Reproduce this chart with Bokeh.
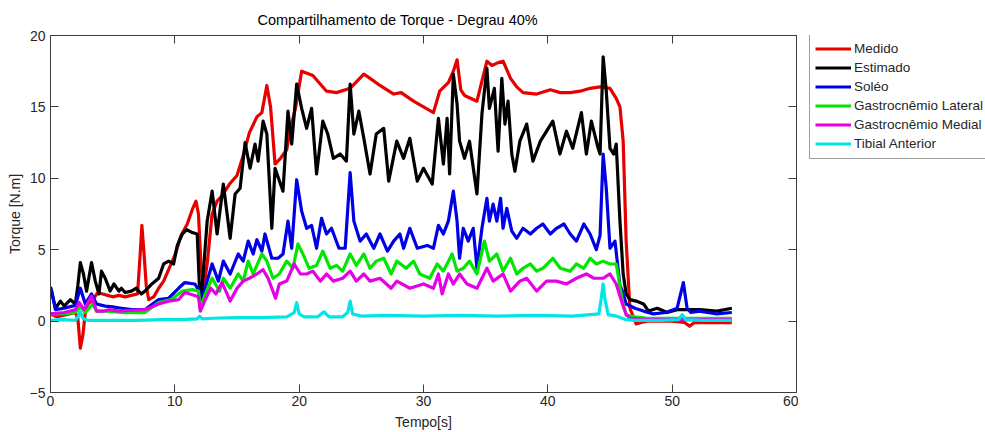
from bokeh.plotting import figure
from bokeh.models import Range1d, LinearAxis, Legend, LegendItem, FixedTicker
from bokeh.layouts import row
from bokeh.embed import file_html
from bokeh.resources import INLINE

title_text = "Compartilhamento de Torque - Degrau 40%"
x_label = "Tempo[s]"
y_label = "Torque [N.m]"
x_ticks = [0, 10, 20, 30, 40, 50, 60]
y_ticks = [-5, 0, 5, 10, 15, 20]

names = ["Medido", "Estimado", "Soléo", "Gastrocnêmio Lateral", "Gastrocnêmio Medial", "Tibial Anterior"]
colors = ["#e60000", "#000000", "#0000e6", "#00e600", "#e600e6", "#00e6e6"]

t_medido = [0, 0.5, 1.0, 1.5, 2.0, 2.2, 2.4, 2.6, 2.8, 3.0, 3.4, 3.8, 4.2, 4.6, 5.0, 5.5, 6.0, 6.5, 7.0, 7.2,
            7.35, 7.5, 7.7, 7.9, 8.3, 8.7, 9.1, 9.5, 10.0, 10.5, 11.0, 11.4, 11.7, 11.9, 12.1, 12.3, 12.6, 13.0,
            13.4, 13.8, 14.4, 15.0, 15.5, 16.0, 16.6, 17.0, 17.4, 17.7, 18.06, 18.5, 19.0, 19.3, 19.7, 20.2,
            21.1, 22.2, 23.0, 24.1, 25.2, 25.7, 26.5, 27.6, 28.2, 29.2, 30.0, 30.8, 31.3, 32.0, 32.4, 32.7,
            33.0, 33.3, 34.3, 35.1, 35.5, 36.0, 36.4, 37.0, 37.5, 38.0, 39.1, 40.2, 41.0, 41.8, 42.6, 43.4,
            44.2, 45.0, 45.5, 45.8, 46.06, 46.3, 46.6, 47.1, 47.5, 48.0, 49.0, 50.0, 51.0, 51.4, 51.8, 52.5,
            53.5, 54.8]
y_medido = [0.5, 0.3, 0.4, 0.5, 0.6, 0.2, -1.9, -1.0, 0.6, 1.2, 1.5, 2.0, 1.9, 1.8, 1.7, 1.8, 1.7, 1.8, 1.9, 4.5,
            6.7, 5.0, 2.5, 1.5, 1.7, 2.3, 2.8, 3.6, 4.6, 6.0, 6.8, 7.8, 8.4, 7.5, 4.0, 2.2, 4.0, 7.5,
            8.4, 8.8, 9.6, 10.2, 11.6, 13.2, 14.3, 14.6, 16.5, 15.0, 11.0, 11.4, 12.0, 13.5, 14.9, 17.5,
            17.2, 16.1, 16.0, 16.3, 17.3, 17.0, 16.5, 15.9, 16.0, 15.4, 15.0, 14.6, 16.1, 16.7, 17.5, 18.3,
            16.2, 15.8, 15.4, 18.2, 17.9, 18.1, 18.2, 17.0, 16.4, 16.0, 15.9, 16.2, 16.0, 16.0, 16.1, 16.3,
            16.4, 16.3, 15.6, 15.0, 12.6, 5.6, 0.9, -0.2, -0.1, 0.0, 0.0, 0.0, -0.1, -0.35, -0.1, -0.1,
            -0.1, -0.1]

t_estimado = [0, 0.1, 0.4, 0.8, 1.1, 1.6, 2.0, 2.2, 2.4, 2.65, 2.9, 3.3, 3.6, 3.9, 4.1, 4.4, 4.8, 5.1, 5.5, 5.7,
              6.0, 6.5, 6.9, 7.3, 7.6, 8.15, 8.7, 9.1, 9.5, 9.9, 10.2, 10.6, 10.96, 11.4, 11.8, 11.95, 12.05,
              12.3, 12.6, 13.0, 13.4, 13.9, 14.45, 14.85, 15.25, 15.65, 16.05, 16.45, 16.7, 17.1, 17.4, 17.8,
              18.06, 18.7, 19.1, 19.4, 19.8, 20.2, 20.6, 21.0, 21.4, 21.9, 22.3, 22.75, 23.3, 23.8, 24.1, 24.4,
              24.8, 25.2, 25.7, 26.2, 26.8, 27.2, 27.85, 28.4, 28.9, 29.5, 30.0, 30.7, 31.2, 31.6, 31.9, 32.1,
              32.4, 32.7, 32.9, 33.3, 33.7, 34.3, 34.7, 35.1, 35.3, 35.7, 36.0, 36.3, 36.55, 36.8, 37.1, 37.35,
              37.75, 38.3, 38.8, 39.4, 39.9, 40.4, 40.97, 41.5, 42.0, 42.7, 43.1, 43.5, 44.05, 44.2, 44.45, 44.7,
              45.0, 45.3, 45.5, 45.8, 46.06, 46.3, 46.6, 47.1, 47.7, 48.1, 48.8, 49.6, 50.4, 51.0, 52.2, 53.6,
              54.8]
y_estimado = [2.4, 2.0, 0.9, 1.4, 1.05, 1.5, 1.2, 2.5, 4.1, 3.3, 2.1, 4.1, 2.8, 1.9, 3.5, 3.0, 2.1, 2.6, 2.1, 2.3,
              2.0, 2.1, 2.3, 1.9, 2.1, 2.6, 3.0, 4.0, 4.2, 4.0, 5.3, 6.1, 6.4, 6.2, 6.1, 3.0, 0.9,
              3.5, 7.0, 9.1, 6.1, 9.6, 5.8, 8.9, 9.3, 12.5, 10.7, 12.4, 11.2, 14.0, 13.1, 6.5,
              10.7, 9.1, 14.7, 12.4, 16.6, 14.9, 13.5, 14.9, 10.3, 14.0, 13.1, 11.4, 11.7, 11.2, 16.6, 13.1,
              14.7, 12.8, 10.3, 13.1, 13.5, 9.8, 12.6, 11.4, 12.8, 9.8, 10.7, 9.6, 14.2, 11.0, 14.2, 10.3,
              17.3, 15.2, 12.6, 11.4, 12.6, 8.9, 14.5, 17.7, 14.9, 16.3, 11.9, 17.0, 13.8, 15.4, 11.7, 10.5,
              12.6, 13.8, 11.2, 12.6, 13.3, 14.0, 11.7, 13.3, 12.1, 14.6, 11.7, 14.0, 12.1, 11.7, 18.5, 16.1,
              12.1, 11.7, 12.4, 7.0, 3.3, 1.9, 1.5, 1.4, 1.2, 0.7, 0.9, 0.6, 0.8, 0.8, 0.8, 0.7,
              0.9]

t_soleo = [0, 0.1, 0.4, 1.1, 2.0, 2.4, 2.8, 3.3, 3.7, 4.4, 5.0, 5.7, 6.5, 7.6, 8.2, 8.7, 9.5, 10.3, 10.8, 11.6,
           11.9, 12.05, 12.5, 13.0, 13.5, 13.9, 14.45, 15.1, 15.5, 15.9, 16.3, 16.6, 17.0, 17.25, 17.8, 18.3,
           18.7, 19.1, 19.4, 19.8, 20.2, 20.6, 21.0, 21.4, 21.8, 22.2, 22.6, 23.2, 23.7, 24.1, 24.4, 24.9,
           25.4, 26.0, 26.5, 27.1, 27.6, 28.1, 28.4, 28.9, 29.5, 30.3, 30.8, 31.2, 31.6, 32.0, 32.4, 32.7,
           32.9, 33.2, 33.6, 34.0, 34.3, 34.7, 35.1, 35.3, 35.6, 35.9, 36.2, 36.4, 36.7, 37.1, 37.5, 38.0,
           38.6, 39.1, 39.6, 40.2, 40.7, 41.3, 41.8, 42.3, 42.9, 43.4, 43.9, 44.2, 44.45, 44.7, 45.0, 45.4,
           45.8, 46.0, 46.3, 47.0, 47.7, 48.5, 49.5, 50.4, 50.9, 51.2, 51.5, 52.2, 53.6, 54.8]
y_soleo = [2.3, 2.1, 0.8, 0.9, 1.1, 2.3, 1.2, 1.9, 1.2, 1.05, 1.0, 0.9, 0.8, 0.8, 1.2, 1.5, 1.6, 2.3, 2.7, 2.6,
           2.2, 1.2, 2.5, 4.0, 2.8, 4.2, 3.3, 4.7, 4.2, 5.6, 4.7, 5.7, 4.9, 6.1, 4.4, 4.4,
           4.7, 7.0, 5.1, 9.9, 7.7, 6.5, 6.7, 5.1, 7.2, 6.1, 6.5, 5.1, 5.1, 10.4, 7.0, 5.6,
           6.1, 5.1, 6.1, 4.9, 5.6, 6.1, 5.1, 6.5, 5.1, 5.3, 5.1, 6.7, 6.1, 7.0, 9.1, 7.0,
           4.4, 6.5, 5.6, 6.5, 3.7, 6.5, 8.6, 7.0, 8.2, 7.0, 8.6, 6.5, 7.9, 6.3, 5.8, 6.5,
           6.1, 6.5, 6.8, 6.1, 6.5, 6.8, 6.1, 5.6, 6.8, 6.1, 5.0, 6.0, 11.7, 9.3, 5.1, 5.6,
           2.5, 2.1, 1.2, 0.9, 0.7, 0.5, 0.6, 0.9, 2.7, 0.9, 0.6, 0.7, 0.5, 0.6]

t_gl = [0, 1.0, 2.0, 2.4, 2.8, 3.4, 3.7, 4.5, 5.7, 7.6, 8.7, 9.7, 10.6, 11.4, 11.9, 12.05, 12.5, 13.0, 13.6, 13.9,
        14.45, 15.1, 15.5, 15.9, 16.3, 17.0, 17.4, 17.9, 18.4, 19.0, 19.5, 19.9, 20.3, 20.8, 21.4, 21.9, 22.5,
        23.0, 23.5, 24.1, 24.6, 25.2, 25.7, 26.2, 26.8, 27.4, 27.85, 28.6, 29.2, 29.7, 30.5, 31.1, 31.6, 32.3,
        32.7, 33.2, 33.7, 34.3, 34.9, 35.3, 35.9, 36.4, 37.0, 37.5, 38.0, 38.6, 39.1, 39.6, 40.4, 41.0, 41.8,
        42.3, 42.9, 43.4, 43.9, 44.45, 45.0, 45.5, 46.0, 46.3, 47.0, 48.0, 50.0, 52.0, 54.8]
y_gl = [0.5, 0.5, 0.6, 1.0, 0.6, 1.2, 0.7, 0.7, 0.6, 0.6, 1.3, 1.5, 2.1, 2.2, 2.1, 0.9, 2.0, 3.0, 2.1, 3.0,
        2.3, 3.3, 2.8, 4.2, 3.3, 4.7, 4.2, 3.0, 3.3, 4.2, 3.7, 5.4, 4.7, 3.7, 3.9, 4.9, 3.7,
        3.9, 3.5, 4.7, 3.9, 4.7, 3.7, 4.2, 4.4, 3.3, 4.2, 3.7, 4.2, 3.3, 3.0, 4.0, 3.5, 4.7,
        3.5, 3.7, 4.2, 3.3, 5.6, 4.2, 4.7, 3.5, 4.4, 3.3, 3.7, 4.0, 3.5, 3.7, 4.4, 3.7, 3.5,
        4.0, 3.7, 4.4, 4.0, 4.2, 4.0, 4.0, 1.4, 0.4, 0.3, 0.2, 0.2, 0.2, 0.2]

t_gm = [0, 1.1, 2.0, 2.3, 2.7, 3.3, 3.7, 4.3, 4.7, 5.5, 7.6, 8.7, 9.5, 10.3, 10.8, 11.4, 11.9, 12.05, 12.5, 12.9,
        13.3, 13.8, 14.2, 14.45, 15.0, 15.5, 16.0, 16.6, 17.1, 17.5, 18.1, 18.4, 19.0, 19.6, 20.1, 20.6, 21.1,
        21.7, 22.2, 22.75, 23.5, 24.1, 24.6, 25.2, 25.7, 26.5, 27.4, 27.85, 28.9, 30.0, 30.8, 31.2, 31.5, 32.0,
        32.4, 32.9, 33.5, 34.3, 35.1, 35.6, 36.4, 37.0, 37.75, 38.3, 39.1, 39.9, 40.7, 41.5, 42.3, 43.1, 43.7,
        44.45, 45.0, 45.5, 46.0, 46.3, 46.6, 48.0, 50.0, 52.0, 54.8]
y_gm = [0.5, 0.6, 0.8, 1.3, 0.8, 1.75, 0.7, 0.7, 0.8, 0.7, 0.8, 1.2, 1.4, 1.5, 2.0, 1.85, 1.7, 0.7, 1.6, 2.3,
        1.9, 2.7, 1.9, 1.4, 2.3, 2.8, 3.0, 3.3, 3.6, 3.0, 1.6, 2.6, 2.8, 4.0, 3.3, 3.3, 3.5,
        2.8, 3.3, 2.8, 3.0, 3.5, 2.8, 3.3, 2.8, 3.0, 2.3, 2.8, 2.3, 2.6, 2.3, 3.3, 1.9, 3.3,
        2.6, 3.3, 2.6, 2.3, 3.7, 2.8, 3.3, 2.1, 2.8, 3.0, 2.1, 2.8, 2.8, 2.6, 3.0, 3.3, 3.0,
        3.0, 3.3, 2.6, 1.2, 0.5, 0.2, 0.1, 0.1, 0.1, 0.1]

t_ta = [0, 1.0, 2.0, 2.2, 2.4, 2.6, 3.0, 5.0, 7.0, 9.0, 10.5, 11.8, 12.0, 12.2, 13.0, 15.0, 17.0, 19.0, 19.6, 19.8,
        20.0, 20.4, 21.5, 22.0, 22.4, 23.5, 23.9, 24.1, 24.3, 25.0, 27.0, 30.0, 33.0, 36.0, 39.0, 42.0, 44.1,
        44.3, 44.45, 44.6, 44.85, 45.5, 46.3, 47.0, 49.0, 50.5, 50.8, 51.1, 52.5, 54.8]
y_ta = [0.05, 0.1, 0.05, 0.3, 0.65, 0.2, 0.05, 0.05, 0.05, 0.1, 0.1, 0.15, 0.35, 0.15, 0.2, 0.25, 0.25, 0.3, 0.6, 1.3,
        0.5, 0.3, 0.3, 0.65, 0.3, 0.3, 0.6, 1.4, 0.5, 0.35, 0.4, 0.35, 0.4, 0.35, 0.4, 0.35, 0.5,
        1.6, 2.6, 1.5, 0.45, 0.35, 0.1, 0.05, 0.05, 0.1, 0.45, 0.1, 0.05, 0.05]

series = [(t_medido, y_medido), (t_estimado, y_estimado), (t_soleo, y_soleo),
          (t_gl, y_gl), (t_gm, y_gm), (t_ta, y_ta)]

FONT = "Liberation Sans"
AX = "#3c3c3c"
TXT = "#262626"
MAIN_W = 798
LW = 3.2

p = figure(width=MAIN_W, height=432, output_backend="svg", toolbar_location=None,
           x_range=Range1d(0, 60), y_range=Range1d(-5, 20),
           min_border_left=50, min_border_right=2, min_border_top=35, min_border_bottom=40)
p.title.text = title_text
p.title.align = "left"
p.title.offset = 207
p.title.text_font = FONT
p.title.text_font_size = "14.5px"
p.title.text_font_style = "normal"
p.title.text_color = "#000000"
p.title.standoff = 16

p.grid.visible = False
p.background_fill_color = "white"
p.border_fill_color = "white"
p.outline_line_color = AX
p.outline_line_width = 1

def style_axis(ax, ticks, show_labels=True):
    ax.ticker = FixedTicker(ticks=ticks)
    ax.minor_tick_line_color = None
    ax.major_tick_in = 8
    ax.major_tick_out = 0
    ax.axis_line_color = AX
    ax.major_tick_line_color = AX
    ax.major_label_text_font = FONT
    ax.major_label_text_font_size = "14px"
    ax.major_label_text_color = TXT if show_labels else None
    ax.axis_label_text_font = FONT
    ax.axis_label_text_font_size = "14px"
    ax.axis_label_text_font_style = "normal"
    ax.axis_label_text_color = TXT

style_axis(p.xaxis[0], x_ticks)
style_axis(p.yaxis[0], y_ticks)
p.xaxis[0].axis_label = x_label
p.yaxis[0].axis_label = y_label
p.xaxis[0].major_label_standoff = 3
p.xaxis[0].axis_label_standoff = 5
p.yaxis[0].major_label_standoff = 5
p.yaxis[0].axis_label_standoff = 4

top_ax = LinearAxis()
style_axis(top_ax, x_ticks, show_labels=False)
top_ax.major_label_text_font_size = "0px"
top_ax.major_label_standoff = 0
p.add_layout(top_ax, "above")
right_ax = LinearAxis()
style_axis(right_ax, y_ticks, show_labels=False)
right_ax.major_label_text_font_size = "0px"
right_ax.major_label_standoff = 0
p.add_layout(right_ax, "right")

for (tx, ty), c in zip(series, colors):
    p.line(tx, ty, line_color=c, line_width=LW, line_join="round")

# companion panel that carries only the legend (its series copies are hidden)
lg = figure(width=985 - MAIN_W, height=432, output_backend="svg", toolbar_location=None,
            x_range=Range1d(0, 60), y_range=Range1d(-5, 20),
            min_border_left=0, min_border_right=0, min_border_top=0, min_border_bottom=0)
lg.axis.visible = False
lg.grid.visible = False
lg.outline_line_color = None
lg.background_fill_color = "white"
lg.border_fill_color = "white"
samples = [lg.line(tx, ty, line_color=c, line_width=LW, visible=False)
           for (tx, ty), c in zip(series, colors)]

LEG_H = 6 * 19 + 2 * 5
FRAME_BOTTOM = 392  # frames of the row are aligned with the main plot
items = [LegendItem(label=n, renderers=[r]) for n, r in zip(names, samples)]
legend = Legend(items=items, location=(809 - MAIN_W, FRAME_BOTTOM - 35 - LEG_H))
legend.label_text_font = FONT
legend.label_text_font_size = "13.5px"
legend.label_text_color = TXT
legend.glyph_width = 36
legend.glyph_height = 19
legend.label_height = 19
legend.label_standoff = 3
legend.spacing = 0
legend.padding = 5
legend.margin = 0
legend.border_line_color = AX
legend.border_line_width = 1
legend.background_fill_color = "white"
legend.background_fill_alpha = 1
legend.inactive_fill_alpha = 0
lg.add_layout(legend)

layout = row(p, lg, spacing=0)
open("out.html", "w").write(file_html(layout, INLINE))
